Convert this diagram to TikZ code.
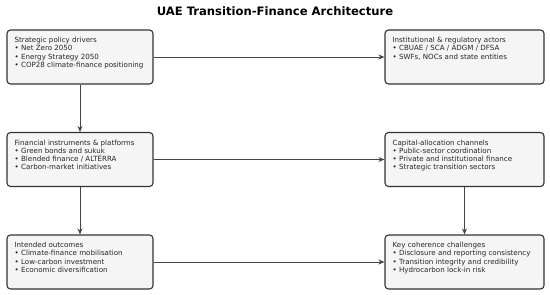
\documentclass[tikz,border=0pt]{standalone}
\usepackage{fontspec}
\setmainfont{DejaVu Sans}
\usetikzlibrary{arrows.meta}
\definecolor{boxfill}{HTML}{F5F5F5}
\definecolor{boxline}{HTML}{333333}
\definecolor{arrowc}{HTML}{444444}
\begin{document}
\begin{tikzpicture}[x=1pt,y=-1pt,
  box/.style={draw=boxline, fill=boxfill, line width=1.1pt, rounded corners=3.5pt, inner sep=0pt},
  lbox/.style={box, minimum width=146pt, minimum height=54pt},
  rbox/.style={box, minimum width=159pt, minimum height=54pt},
  txt/.style={anchor=north west, inner sep=0pt, align=left, font=\fontsize{7.1}{8.3}\selectfont, text=black!85},
  conn/.style={draw=arrowc, line width=1pt, -{Stealth[length=6pt,width=5pt]}}
]
\useasboundingbox (0,0) rectangle (550,295);
\node[font=\bfseries\fontsize{11.6}{13}\selectfont] (title) at (275,11.5) {UAE Transition-Finance Architecture};

\node[lbox] (b1) at (80,57) {};
\node[rbox] (b2) at (464.5,57) {};
\node[lbox] (b3) at (80,159.5) {};
\node[rbox] (b4) at (464.5,159.5) {};
\node[lbox] (b5) at (80,262) {};
\node[rbox] (b6) at (464.5,262) {};

\node[txt] (t1) at ([xshift=8pt,yshift=-7.5pt]b1.north west) {Strategic policy drivers\\ • Net Zero 2050\\ • Energy Strategy 2050\\ • COP28 climate-finance positioning};
\node[txt] (t2) at ([xshift=8pt,yshift=-7.5pt]b2.north west) {Institutional \& regulatory actors\\ • CBUAE / SCA / ADGM / DFSA\\ • SWFs, NOCs and state entities};
\node[txt] (t3) at ([xshift=8pt,yshift=-7.5pt]b3.north west) {Financial instruments \& platforms\\ • Green bonds and sukuk\\ • Blended finance / ALTÉRRA\\ • Carbon-market initiatives};
\node[txt] (t4) at ([xshift=8pt,yshift=-7.5pt]b4.north west) {Capital-allocation channels\\ • Public-sector coordination\\ • Private and institutional finance\\ • Strategic transition sectors};
\node[txt] (t5) at ([xshift=8pt,yshift=-7.5pt]b5.north west) {Intended outcomes\\ • Climate-finance mobilisation\\ • Low-carbon investment\\ • Economic diversification};
\node[txt] (t6) at ([xshift=8pt,yshift=-7.5pt]b6.north west) {Key coherence challenges\\ • Disclosure and reporting consistency\\ • Transition integrity and credibility\\ • Hydrocarbon lock-in risk};

\draw[conn] (b1) -- (b2);
\draw[conn] (b3) -- (b4);
\draw[conn] (b5) -- (b6);
\draw[conn] (b1) -- (b3);
\draw[conn] (b3) -- (b5);
\draw[conn] (b4) -- (b6);
\end{tikzpicture}
\end{document}
